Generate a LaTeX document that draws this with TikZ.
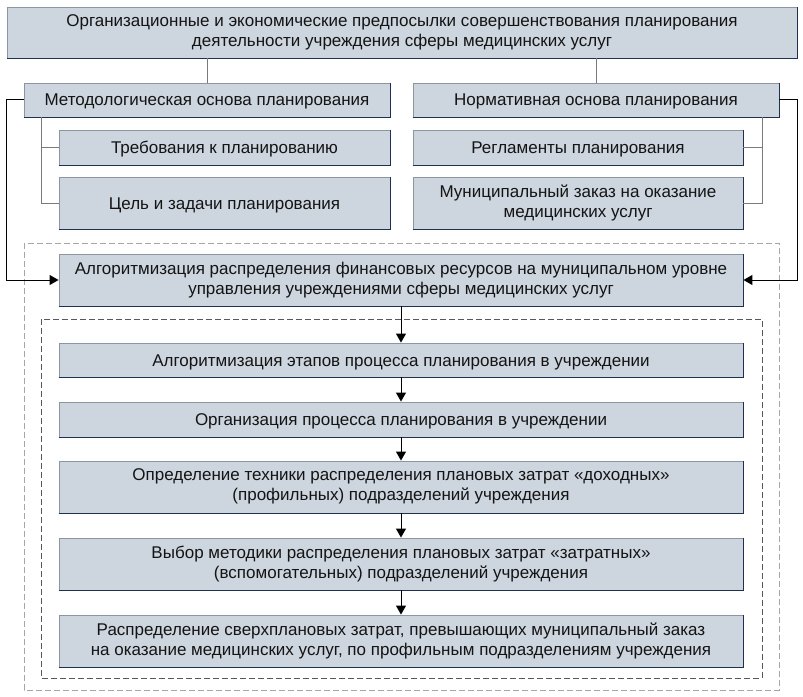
\documentclass[tikz,border=0pt]{standalone}
\usepackage{fontspec}
\setmainfont{Liberation Sans}
\usetikzlibrary{arrows.meta,calc}
\definecolor{boxfill}{HTML}{CDD5DF}
\definecolor{boxlite}{HTML}{8C95A0}
\definecolor{boxdark}{HTML}{1F3050}
\definecolor{connc}{HTML}{7A7A7A}
\definecolor{txt}{HTML}{141414}
\tikzset{
  box/.style={fill=boxfill, draw=boxlite, line width=0.9bp, inner sep=0pt, align=center,
    text=txt, font=\fontsize{17bp}{20bp}\selectfont,
    execute at begin node={\rule{0pt}{16bp}},
    execute at end node={\rule[-4bp]{0pt}{4bp}}},
  conn/.style={draw=connc, line width=1bp},
  arr/.style={draw=black, line width=1bp, -{Triangle[length=9bp,width=10bp]}},
  outerdash/.style={draw=gray!70, line width=1bp, dash pattern=on 6bp off 3bp},
  innerdash/.style={draw=black!65, line width=1bp, dash pattern=on 6bp off 3bp},
}
\newcommand{\boxedge}[1]{\draw[boxdark, line width=1bp] (#1.south west) -- (#1.south east) -- (#1.north east);}
\begin{document}
\begin{tikzpicture}[x=1bp,y=-1bp]
\useasboundingbox (0,0) rectangle (803,697);
% dashed frames
\draw[outerdash] (24,243) rectangle (779,690);
\draw[innerdash] (41,319) rectangle (762,678);
% boxes
\node[box, minimum width=790bp, minimum height=51bp] (top) at (402,32.5)
  {Организационные и экономические предпосылки совершенствования планирования\\деятельности учреждения сферы медицинских услуг};
\node[box, minimum width=366bp, minimum height=34bp] (meth) at (207,100) {Методологическая основа планирования};
\node[box, minimum width=331bp, minimum height=35bp] (req) at (224.5,147.5) {Требования к планированию};
\node[box, minimum width=331bp, minimum height=52bp] (goal) at (224.5,203) {Цель и задачи планирования};
\node[box, minimum width=366bp, minimum height=34bp] (norm) at (596,100) {Нормативная основа планирования};
\node[box, minimum width=330bp, minimum height=35bp] (reg) at (578,147.5) {Регламенты планирования};
\node[box, minimum width=330bp, minimum height=52bp] (mun) at (578,203) {Муниципальный заказ на оказание\\медицинских услуг};
\node[box, minimum width=684bp, minimum height=52bp] (alg) at (401,280)
  {Алгоритмизация распределения финансовых ресурсов на муниципальном уровне\\управления учреждениями сферы медицинских услуг};
\node[box, minimum width=684bp, minimum height=34bp] (b1) at (401,360) {Алгоритмизация этапов процесса планирования в учреждении};
\node[box, minimum width=684bp, minimum height=35bp] (b2) at (401,419.5) {Организация процесса планирования в учреждении};
\node[box, minimum width=684bp, minimum height=52bp] (b3) at (401,487)
  {Определение техники распределения плановых затрат «доходных»\\(профильных) подразделений учреждения};
\node[box, minimum width=684bp, minimum height=52bp] (b4) at (401,564)
  {Выбор методики распределения плановых затрат «затратных»\\(вспомогательных) подразделений учреждения};
\node[box, minimum width=684bp, minimum height=52bp] (b5) at (401,641)
  {Распределение сверхплановых затрат, превышающих муниципальный заказ\\на оказание медицинских услуг, по профильным подразделениям учреждения};
\foreach \n in {top,meth,req,goal,norm,reg,mun,alg,b1,b2,b3,b4,b5}{\boxedge{\n}}
% gray connectors
\draw[conn] (meth.north) -- (meth.north |- top.south);
\draw[conn] (norm.north) -- (norm.north |- top.south);
\coordinate (ml) at ($(meth.south west)+(18,0)$);
\draw[conn] (ml) |- (req.west);
\draw[conn] (ml) |- (goal.west);
\coordinate (nr) at ($(norm.south east)+(-17,0)$);
\draw[conn] (nr) |- (reg.east);
\draw[conn] (nr) |- (mun.east);
% arrows
\draw[arr] (meth.west) -- ++(-17,0) |- (alg.west);
\draw[arr] (norm.east) -- ++(18,0) |- (alg.east);
\draw[arr] (alg.south) -- (b1.north);
\draw[arr] (b1.south) -- (b2.north);
\draw[arr] (b2.south) -- (b3.north);
\draw[arr] (b3.south) -- (b4.north);
\draw[arr] (b4.south) -- (b5.north);
\end{tikzpicture}
\end{document}
